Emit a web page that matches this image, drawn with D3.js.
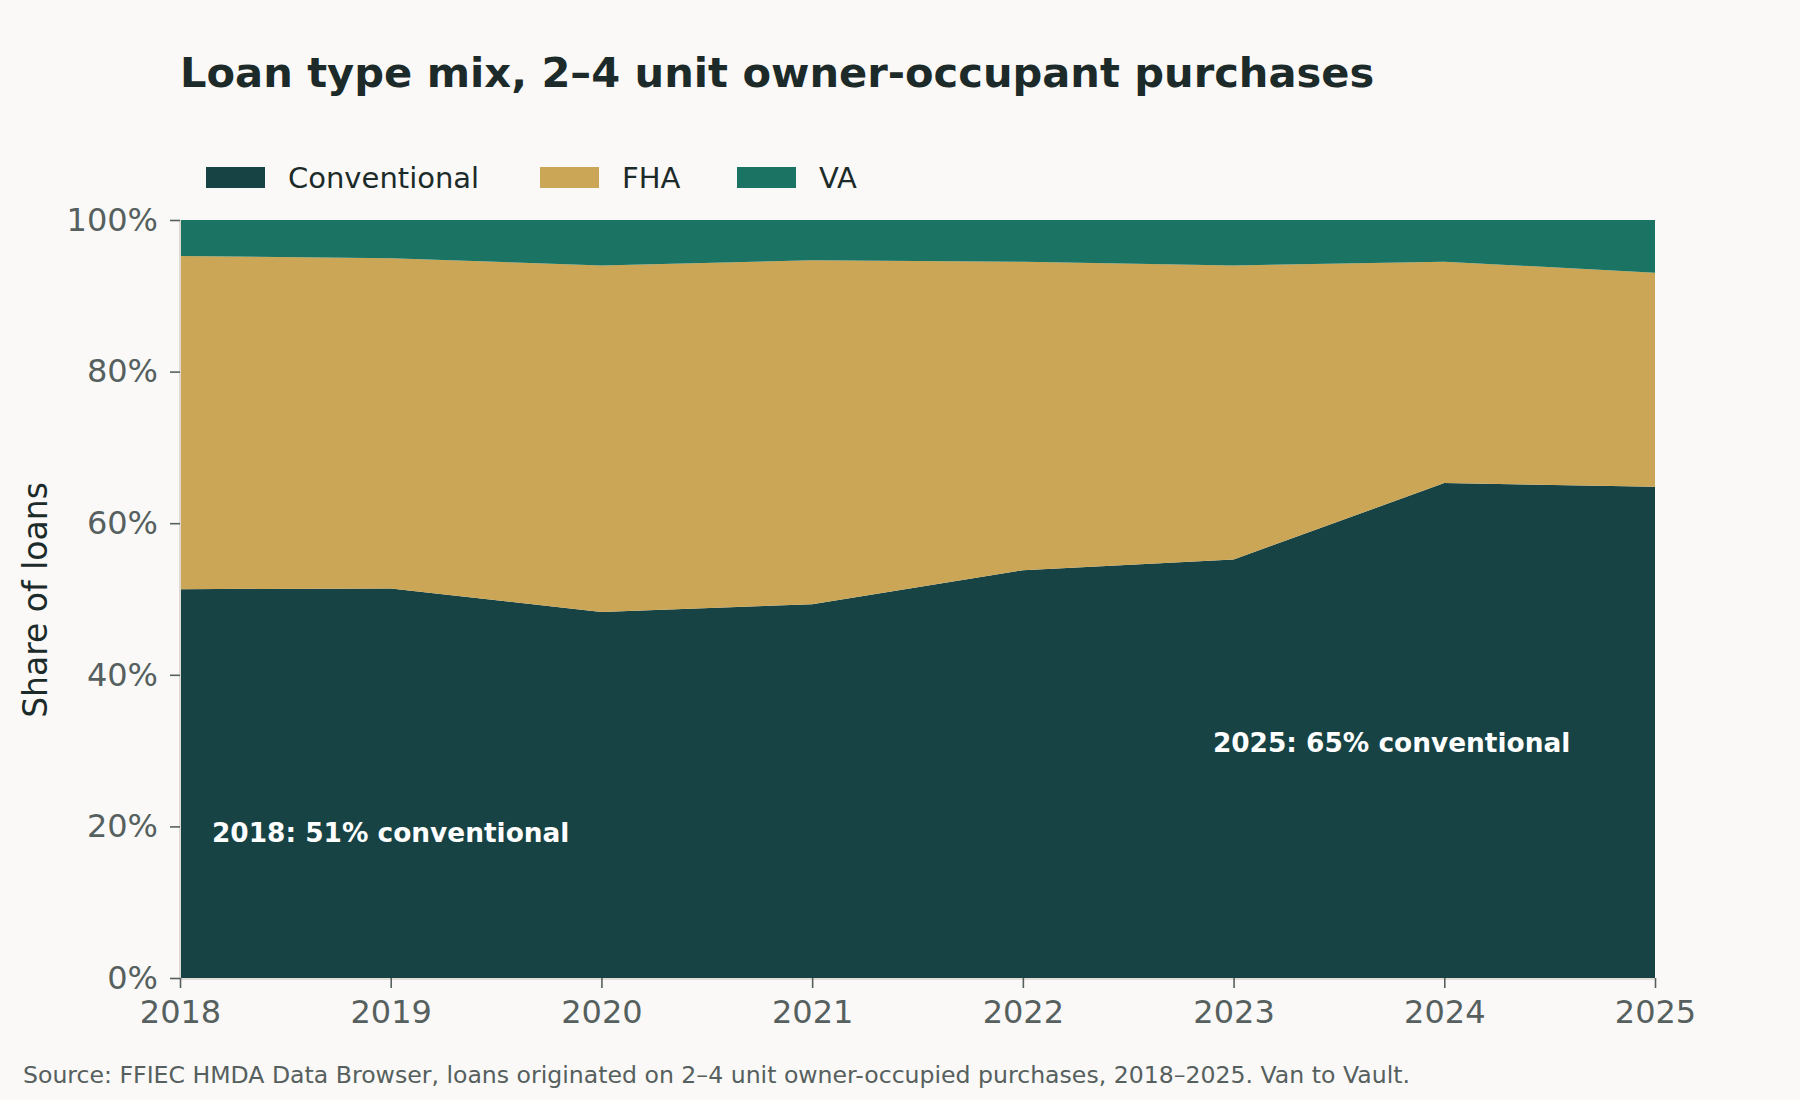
<!DOCTYPE html>
<html>
<head>
<meta charset="utf-8">
<script src="https://cdn.jsdelivr.net/npm/d3@7"></script>
<style>
  body { margin: 0; background: #faf9f7; }
  text { font-family: "DejaVu Sans", sans-serif; }
</style>
</head>
<body>
<div id="chart"></div>
<script>
// Data (share of loans, %)
var years = [2018, 2019, 2020, 2021, 2022, 2023, 2024, 2025];
var conventional = [51.3, 51.4, 48.3, 49.3, 53.8, 55.2, 65.3, 64.8];
var fha = [43.95, 43.55, 45.7, 45.4, 40.7, 38.8, 29.2, 28.25];
var va = [4.75, 5.05, 6.0, 5.3, 5.5, 6.0, 5.5, 6.95];
var seriesNames = ["Conventional", "FHA", "VA"];
var yTicks = [0, 20, 40, 60, 80, 100];
var notes = [
  {year: 2019, share: 17.9, label: "2018: 51% conventional"},
  {year: 2023.75, share: 29.8, label: "2025: 65% conventional"}
];

var colors = {Conventional: "#174345", FHA: "#caa656", VA: "#1b7463"};

// Set the dimensions and margins
var margin = {top: 220, right: 145, bottom: 122, left: 180},
    width = 1800 - margin.left - margin.right,
    height = 1100 - margin.top - margin.bottom;

var root = d3.select("#chart")
  .append("svg")
    .attr("width", 1800)
    .attr("height", 1100);

root.append("rect")
  .attr("width", 1800)
  .attr("height", 1100)
  .attr("fill", "#faf9f7");

var svg = root.append("g")
    .attr("transform", "translate(" + margin.left + "," + margin.top + ")");

// build rows for the stack
var rows = years.map(function(y, i) {
  return {year: y, Conventional: conventional[i], FHA: fha[i], VA: va[i]};
});
var stacked = d3.stack().keys(seriesNames)(rows);

var x = d3.scaleLinear()
  .domain([2018, 2025])
  .range([0, width]);

var y = d3.scaleLinear()
  .domain([0, 100])
  .range([height, 0]);

var area = d3.area()
  .x(function(d) { return x(d.data.year); })
  .y0(function(d) { return y(d[0]); })
  .y1(function(d) { return y(d[1]); });

svg.selectAll(".layer")
  .data(stacked)
  .enter()
  .append("path")
    .attr("class", "layer")
    .attr("d", area)
    .attr("fill", function(d) { return colors[d.key]; });

// spines
svg.append("line")
  .attr("x1", 0).attr("x2", 0).attr("y1", 0).attr("y2", height)
  .attr("stroke", "#dedad3").attr("stroke-width", 2);
svg.append("line")
  .attr("x1", 0).attr("x2", width).attr("y1", height + 1).attr("y2", height + 1)
  .attr("stroke", "#e3dfd8").attr("stroke-width", 2);

// X axis
var xAxis = svg.append("g")
  .attr("transform", "translate(0," + height + ")")
  .call(d3.axisBottom(x).tickValues(years).tickFormat(d3.format("d")).tickSize(10).tickPadding(12));
xAxis.select(".domain").remove();
xAxis.selectAll("line").attr("stroke", "#56605e").attr("stroke-width", 1.6);
xAxis.selectAll("text")
  .attr("fill", "#56605e")
  .style("font-size", "32px");

// Y axis
var yAxis = svg.append("g")
  .call(d3.axisLeft(y).tickValues(yTicks).tickFormat(function(d) { return d + "%"; }).tickSize(10).tickPadding(12));
yAxis.select(".domain").remove();
yAxis.selectAll("line").attr("stroke", "#56605e").attr("stroke-width", 1.6);
yAxis.selectAll("text")
  .attr("fill", "#56605e")
  .style("font-size", "32px");

// annotations
svg.selectAll(".note")
  .data(notes)
  .enter()
  .append("text")
    .attr("class", "note")
    .attr("x", function(d) { return x(d.year); })
    .attr("y", function(d) { return y(d.share); })
    .attr("text-anchor", "middle")
    .attr("fill", "#ffffff")
    .style("font-size", "26.4px")
    .style("font-weight", "bold")
    .text(function(d) { return d.label; });

// title
root.append("text")
  .attr("x", 180)
  .attr("y", 87)
  .attr("fill", "#1c2b29")
  .style("font-size", "41.6px")
  .style("font-weight", "bold")
  .text("Loan type mix, 2–4 unit owner-occupant purchases");

// legend
var legendX = [206, 540, 737];
var legend = root.selectAll(".legend")
  .data(seriesNames)
  .enter()
  .append("g")
    .attr("class", "legend")
    .attr("transform", function(d, i) { return "translate(" + legendX[i] + ",167)"; });
legend.append("rect")
  .attr("width", 59)
  .attr("height", 21)
  .attr("fill", function(d) { return colors[d]; });
legend.append("text")
  .attr("x", 82)
  .attr("y", 21)
  .attr("fill", "#1c2b29")
  .style("font-size", "29px")
  .text(function(d) { return d; });

// y axis title
root.append("text")
  .attr("transform", "translate(47,600) rotate(-90)")
  .attr("text-anchor", "middle")
  .attr("fill", "#1c2b29")
  .style("font-size", "33px")
  .text("Share of loans");

// source
root.append("text")
  .attr("x", 23)
  .attr("y", 1083)
  .attr("fill", "#56605e")
  .style("font-size", "23.6px")
  .text("Source: FFIEC HMDA Data Browser, loans originated on 2–4 unit owner-occupied purchases, 2018–2025. Van to Vault.");
</script>
</body>
</html>
